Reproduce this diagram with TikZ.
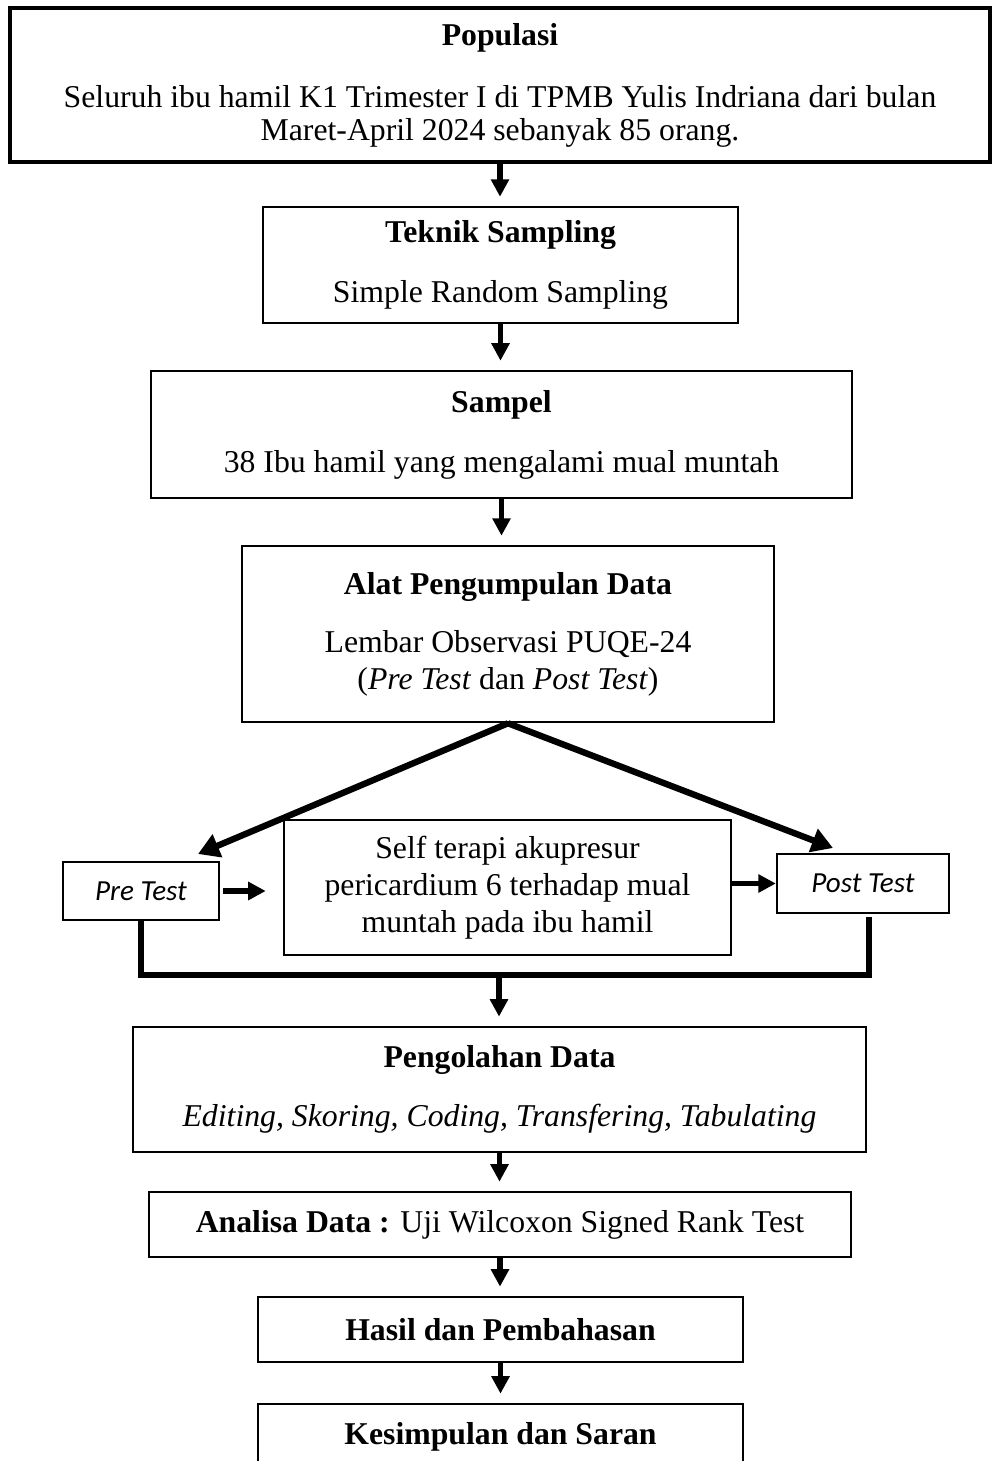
\documentclass[tikz,border=0pt]{standalone}
\usepackage{fontspec}
\setmainfont{Liberation Serif}
\newfontfamily\calibri{Carlito}
\usetikzlibrary{arrows.meta}

\begin{document}
\begin{tikzpicture}[x=0.378pt, y=-0.378pt,
    every node/.style={font=\fontsize{12}{14}\selectfont},
    box/.style={draw, line width=1pt, align=center, inner sep=2pt},
    smallbox/.style={draw, line width=0.9pt, inner sep=2pt, font=\calibri\itshape\fontsize{11}{13}\selectfont},
    flow/.style={-{Triangle[width=6.6pt,length=6.6pt]}, line width=1.9pt, shorten >=3.4pt},
    fork/.style={-{Triangle[width=9pt,length=8pt]}, line width=2.4pt},
    bracket/.style={line width=2.2pt}]
  \useasboundingbox (0,0) rectangle (992,1461);
  \clip (0,0) rectangle (992,1461);

  % main column
  \node[box, line width=1.4pt, minimum width=370.4pt, minimum height=58.2pt,
        font=\fontsize{12}{12.5}\selectfont] (pop) at (500,85)
    {\textbf{Populasi}\\[10.9pt]Seluruh ibu hamil K1 Trimester I di TPMB Yulis Indriana dari bulan\\Maret-April 2024 sebanyak 85 orang.};
  \node[box, minimum width=179.6pt, minimum height=43.8pt] (teknik) at (500.5,265)
    {\textbf{Teknik Sampling}\\[8.7pt]Simple Random Sampling};
  \node[box, minimum width=265pt, minimum height=48pt] (sampel) at (501.5,434.5)
    {\textbf{Sampel}\\[8.7pt]38 Ibu hamil yang mengalami mual muntah};
  \node[box, minimum width=201.1pt, minimum height=66.5pt] (alat) at (508,634)
    {\textbf{Alat Pengumpulan Data}\\[7.9pt]Lembar Observasi PUQE-24\\(\textit{Pre Test} dan \textit{Post Test})};

  % pre test -- perlakuan -- post test
  \node[smallbox, minimum width=59pt, minimum height=21.9pt] (pre) at (141,891) {Pre Test};
  \node[box, minimum width=169pt, minimum height=51pt] (terapi) at (507.5,887.5)
    {Self terapi akupresur\\pericardium 6 terhadap mual\\muntah pada ibu hamil};
  \node[smallbox, minimum width=65pt, minimum height=22.3pt] (post) at (863,883.5) {Post Test};

  \node[box, minimum width=277.1pt, minimum height=47.3pt] (olah) at (499.5,1089.5)
    {\textbf{Pengolahan Data}\\[8.3pt]\textit{Editing, Skoring, Coding, Transfering, Tabulating}};
  \node[box, minimum width=265.4pt, minimum height=24.6pt] (analisa) at (500,1224.5)
    {\textbf{Analisa Data :} Uji Wilcoxon Signed Rank Test};
  \node[box, minimum width=183.3pt, minimum height=24.6pt] (hasil) at (500.5,1329.5)
    {\textbf{Hasil dan Pembahasan}};
  \node[box, minimum width=183.3pt, minimum height=24.6pt] (simpul) at (500.5,1436.5)
    {\textbf{Kesimpulan dan Saran}};

  \coordinate (tipL) at (198,854);
  \coordinate (tipR) at (833,848);
  \coordinate (joinM) at (499,975);
  \coordinate (joinR) at (869,975);
  \coordinate (postfoot) at (869,917);

  % arrows
  \draw[flow] (pop.south) -- (pop.south |- teknik.north);
  \draw[flow] (teknik.south) -- (teknik.south |- sampel.north);
  \draw[flow] (sampel.south) -- (sampel.south |- alat.north);
  \draw[fork] (alat.south) -- (tipL);
  \draw[fork] (alat.south) -- (tipR);
  \draw[flow, shorten <=1pt, shorten >=6.4pt] (pre.east) -- (pre.east -| terapi.west);
  \draw[flow, shorten >=0pt] (terapi.east |- post.west) -- (post.west);
  \draw[bracket] (pre.south) |- (joinR) -- (postfoot);
  \draw[flow] (joinM) -- (joinM |- olah.north);
  \draw[flow] (olah.south) -- (olah.south |- analisa.north);
  \draw[flow] (analisa.south) -- (analisa.south |- hasil.north);
  \draw[flow] (hasil.south) -- (hasil.south |- simpul.north);
\end{tikzpicture}
\end{document}
